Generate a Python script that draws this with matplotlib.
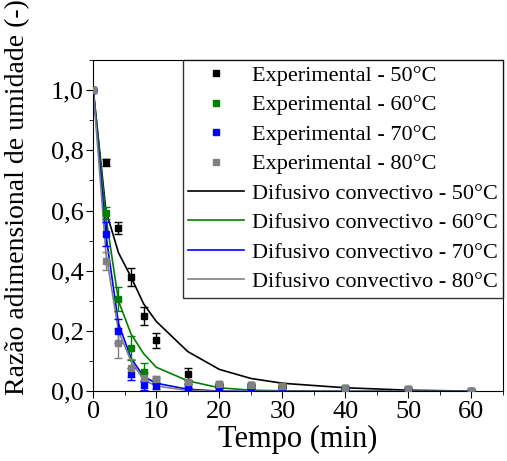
import matplotlib
matplotlib.use("Agg")
import matplotlib.pyplot as plt
from matplotlib.lines import Line2D
from matplotlib.ticker import MultipleLocator, FuncFormatter

plt.rcParams["font.family"] = ["Liberation Serif", "DejaVu Serif"]

# time points (min)
tempo = [0, 2, 4, 6, 8, 10, 15, 20, 25, 30, 40, 50, 60]

# experimental moisture ratio
exp_50 = [1.0, 0.76, 0.542, 0.379, 0.249, 0.169, 0.057, 0.024, 0.021, 0.019, 0.010, 0.008, 0.002]
exp_60 = [1.0, 0.593, 0.307, 0.145, 0.065, 0.035, 0.025, 0.022, 0.020, 0.018, 0.010, 0.007, 0.002]
exp_70 = [1.0, 0.521, 0.199, 0.058, 0.021, 0.018, 0.010, 0.012, 0.010, 0.010, 0.008, 0.006, 0.002]
exp_80 = [1.0, 0.432, 0.162, 0.077, 0.045, 0.040, 0.032, 0.024, 0.021, 0.019, 0.010, 0.008, 0.002]

err_50 = [0, 0.012, 0.020, 0.030, 0.030, 0.025, 0.020, 0, 0, 0, 0, 0, 0]
err_60 = [0, 0.020, 0.040, 0.040, 0.030, 0.010, 0, 0, 0, 0, 0, 0, 0]
err_70 = [0, 0.040, 0.040, 0.020, 0.015, 0.010, 0, 0, 0, 0, 0, 0, 0]
err_80 = [0, 0.030, 0.050, 0.030, 0.015, 0.010, 0.005, 0, 0, 0, 0, 0, 0]

# diffusive-convective model
mod_50 = [1.0, 0.60, 0.46, 0.379, 0.29, 0.232, 0.132, 0.073, 0.043, 0.027, 0.012, 0.004, 0.001]
mod_60 = [1.0, 0.58, 0.30, 0.19, 0.125, 0.08, 0.035, 0.012, 0.004, 0.002, 0.0, 0.0, 0.0]
mod_70 = [1.0, 0.52, 0.225, 0.11, 0.049, 0.027, 0.007, 0.001, 0.0, 0.0, 0.0, 0.0, 0.0]
mod_80 = [1.0, 0.46, 0.20, 0.10, 0.038, 0.018, 0.003, 0.0, 0.0, 0.0, 0.0, 0.0, 0.0]

temps = ["50", "60", "70", "80"]
cores = ["black", "#008000", "#0000ff", "#808080"]

fig = plt.figure(figsize=(5.07, 4.61), dpi=100)
ax = fig.add_axes([0.184, 0.151, 0.808, 0.719])

exp_all = [exp_50, exp_60, exp_70, exp_80]
err_all = [err_50, err_60, err_70, err_80]
mod_all = [mod_50, mod_60, mod_70, mod_80]

handles_exp = []
handles_mod = []
for t, c, y, e in zip(temps, cores, exp_all, err_all):
    ax.errorbar(tempo, y, yerr=e, fmt="s", color=c, ms=5, capsize=3,
                elinewidth=1, capthick=1, zorder=3)
    handles_exp.append(Line2D([], [], ls="none", marker="s", ms=4, color=c,
                              label=f"Experimental - {t}°C"))
for t, c, y in zip(temps, cores, mod_all):
    h, = ax.plot(tempo, y, "-", color=c, lw=1.2, label=f"Difusivo convectivo - {t}°C", zorder=2)
    handles_mod.append(h)

ax.set_xlim(0, 65)
ax.set_ylim(0, 1.1)
ax.xaxis.set_major_locator(MultipleLocator(10))
ax.xaxis.set_minor_locator(MultipleLocator(5))
ax.yaxis.set_major_locator(MultipleLocator(0.2))
ax.yaxis.set_minor_locator(MultipleLocator(0.1))
ax.yaxis.set_major_formatter(FuncFormatter(lambda v, p: f"{v:.1f}".replace(".", ",")))
ax.tick_params(which="both", direction="out", top=False, right=False, labelsize=19, pad=2)
ax.tick_params(which="major", length=5)
ax.tick_params(which="minor", length=3)

ax.set_xlabel("Tempo (min)", fontsize=22, labelpad=1)
ax.set_ylabel("Razão adimensional de umidade (-)", fontsize=20)
ax.yaxis.set_label_coords(-0.155, 0.585)

leg = ax.legend(handles=handles_exp + handles_mod, loc="upper right", fontsize=16,
                frameon=True, fancybox=False, borderaxespad=0, borderpad=0.25,
                labelspacing=0.4, handlelength=2.5, handletextpad=0.35)
leg.get_frame().set_edgecolor("black")
leg.get_frame().set_linewidth(1)

fig.savefig("out.png", dpi=100)
